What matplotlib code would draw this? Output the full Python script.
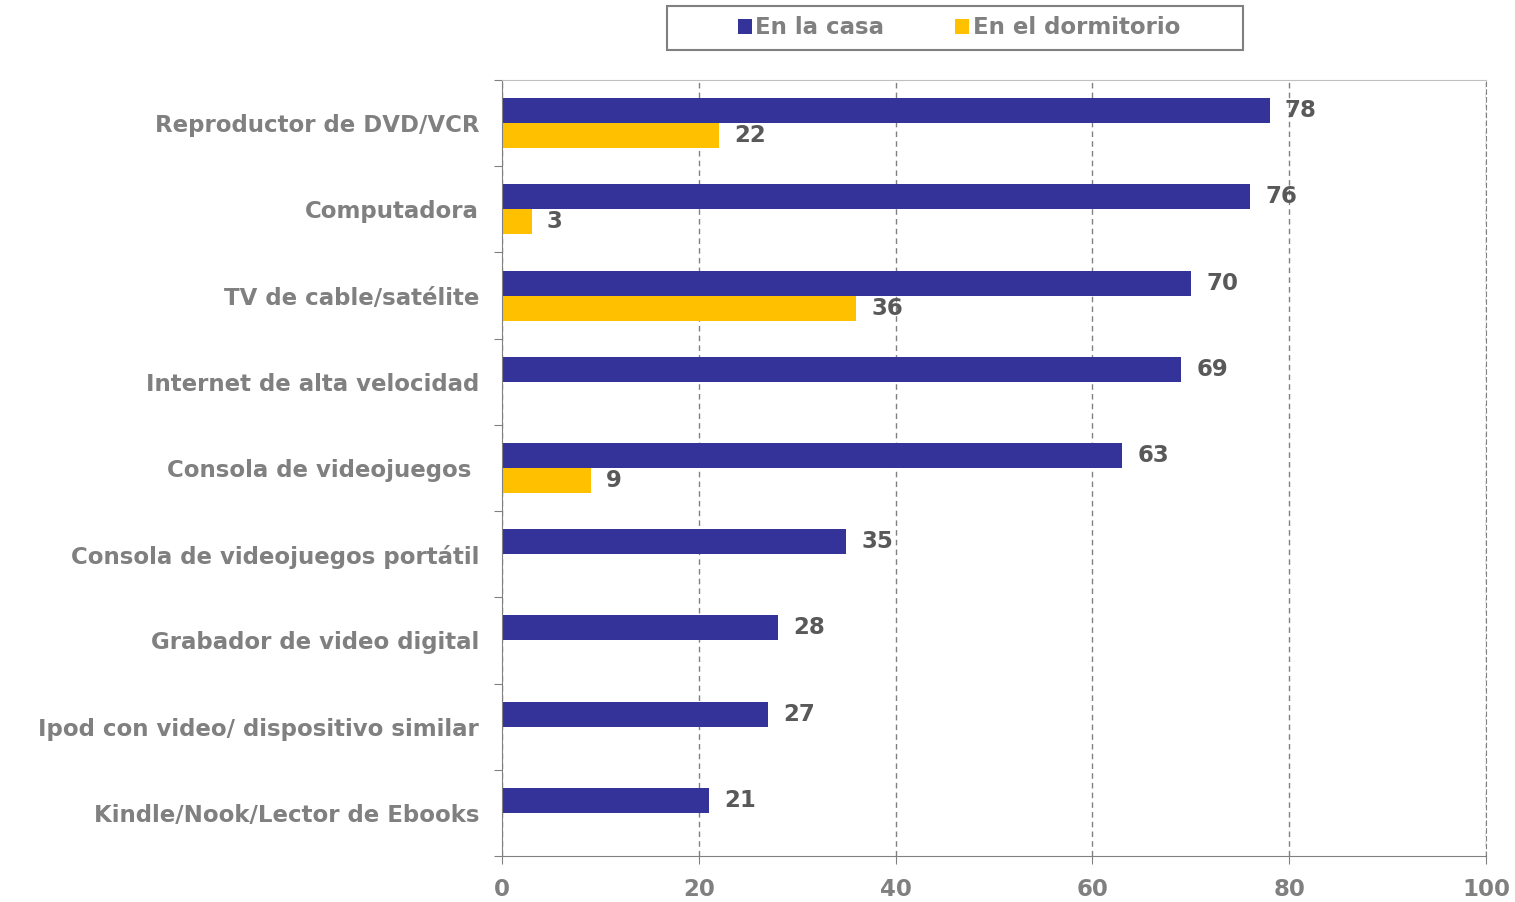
import matplotlib.pyplot as plt
from matplotlib.patches import Rectangle
import numpy as np

categorias = ['Reproductor de DVD/VCR', 'Computadora', 'TV de cable/satélite',
              'Internet de alta velocidad', 'Consola de videojuegos ',
              'Consola de videojuegos portátil', 'Grabador de video digital',
              'Ipod con video/ dispositivo similar', 'Kindle/Nook/Lector de Ebooks']
casa = [78, 76, 70, 69, 63, 35, 28, 27, 21]
dormitorio = [22, 3, 36, None, 9, None, None, None, None]

navy = '#333399'
amarillo = '#FFC000'
gris = '#808080'
oscuro = '#595959'

plt.rcParams['font.family'] = 'DejaVu Sans'
plt.rcParams['font.weight'] = 'bold'
fs = 16.5

fig = plt.figure(figsize=(15.15, 9.02), dpi=100)
ax = fig.add_axes([0.3314, 0.051, 0.6495, 0.8603])

y = np.arange(len(categorias))
h = 0.29
ax.barh(y - h/2, casa, h, color=navy, label='En la casa')
dorm = [np.nan if v is None else v for v in dormitorio]
ax.barh(y + h/2, dorm, h, color=amarillo, label='En el dormitorio')

for i, v in enumerate(casa):
    ax.annotate(str(v), (v, i - h/2), xytext=(11, 0), textcoords='offset points',
                ha='left', va='center', fontsize=fs, color=oscuro, fontweight='bold')
for i, v in enumerate(dormitorio):
    if v is not None:
        ax.annotate(str(v), (v, i + h/2), xytext=(11, 0), textcoords='offset points',
                    ha='left', va='center', fontsize=fs, color=oscuro, fontweight='bold')

ax.set_xlim(0, 100)
ax.set_ylim(len(categorias) - 0.5, -0.5)
ax.set_xticks([0, 20, 40, 60, 80, 100])
ax.tick_params(axis='x', colors=gris, labelsize=fs, length=6, pad=10, labelcolor=gris)

# category boundaries as major ticks, labels as minor ticks at centres
ax.set_yticks(np.arange(-0.5, len(categorias), 1))
ax.set_yticklabels([])
ax.set_yticks(y, minor=True)
ax.set_yticklabels(categorias, minor=True)
ax.tick_params(axis='y', which='major', length=6, color=gris)
ax.tick_params(axis='y', which='minor', length=0, pad=16.5, labelsize=fs, labelcolor=gris)

ax.grid(axis='x', linestyle=(0, (4, 3)), color=gris, linewidth=1)
ax.set_axisbelow(True)
ax.spines['left'].set_color(gris)
ax.spines['bottom'].set_color(gris)
ax.spines['top'].set_color('#c0c0c0')
ax.spines['right'].set_color(gris)
ax.spines['right'].set_linestyle((0, (4, 3)))

leg = fig.legend(loc='center', bbox_to_anchor=(959/1515, 1 - 28/902), ncol=2,
                 fontsize=fs, frameon=False, handlelength=0.6,
                 handleheight=0.6, handletextpad=0.15, columnspacing=3.1,
                 borderpad=0, borderaxespad=0)
for t in leg.get_texts():
    t.set_color(gris)

# legend box drawn separately (wider than the legend content)
fig.patches.append(Rectangle((667/1515, 1 - 50/902), 576/1515, 44/902,
                             transform=fig.transFigure, fill=False,
                             edgecolor=gris, linewidth=1.5))

fig.savefig('out.png', dpi=100)
